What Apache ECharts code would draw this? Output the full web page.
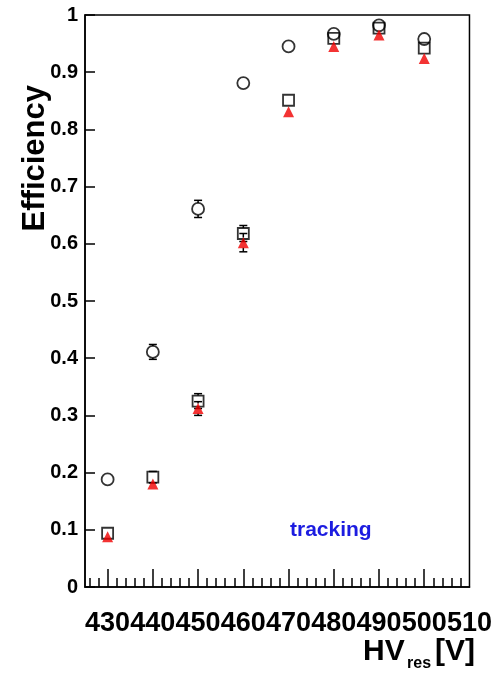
<!DOCTYPE html>
<html>
<head>
<meta charset="utf-8">
<script src="https://cdn.jsdelivr.net/npm/echarts@6/dist/echarts.min.js"></script>
<style>
  html, body { margin: 0; padding: 0; background: #fff; }
  #chart { width: 495px; height: 676px; }
</style>
</head>
<body>
<div id="chart"></div>
<script>
// Reserve voltage scan points (V)
const voltages = [430, 440, 450, 460, 470, 480, 490, 500];

// Efficiency curves and their uncertainties
const effCircle   = [0.188, 0.411, 0.661, 0.881, 0.945, 0.967, 0.982, 0.958];
const errCircle   = [0.004, 0.013, 0.015, 0.006, 0.004, 0.006, 0.006, 0.006];
const effSquare   = [0.094, 0.192, 0.325, 0.618, 0.851, 0.959, 0.977, 0.942];
const errSquare   = [0.008, 0.010, 0.013, 0.014, 0.008, 0.008, 0.007, 0.008];
const effTriangle = [0.088, 0.180, 0.312, 0.602, 0.831, 0.945, 0.965, 0.924];
const errTriangle = [0.006, 0.008, 0.012, 0.016, 0.007, 0.006, 0.005, 0.006];

// Axis tick labels
const xLabels = [430, 440, 450, 460, 470, 480, 490, 500, 510];
const xMajorTicks = [430, 440, 450, 460, 470, 480, 490, 500];
const xMinorTicks = [426, 428, 432, 434, 436, 438, 442, 444, 446, 448, 452, 454, 456, 458,
                     462, 464, 466, 468, 472, 474, 476, 478, 482, 484, 486, 488, 492, 494,
                     496, 498, 502, 504, 506, 508];

const FONT = 'Liberation Sans, Arial, Helvetica, sans-serif';

function pairs(ys, errs) {
  return voltages.map((v, i) => [v, ys[i], errs[i]]);
}

// Error bars drawn outside the marker body, with small end caps
function errorBars(halfSize) {
  return function (params, api) {
    const x = api.value(0), y = api.value(1), e = api.value(2);
    const p = api.coord([x, y]);
    const t = api.coord([x, y + e]);
    const b = api.coord([x, y - e]);
    const cap = 4;
    const style = { stroke: '#000', lineWidth: 1.5 };
    const children = [];
    if (p[1] - t[1] > halfSize) {
      children.push({ type: 'line', shape: { x1: p[0], y1: p[1] - halfSize, x2: t[0], y2: t[1] }, style });
      children.push({ type: 'line', shape: { x1: t[0] - cap, y1: t[1], x2: t[0] + cap, y2: t[1] }, style });
    }
    if (b[1] - p[1] > halfSize) {
      children.push({ type: 'line', shape: { x1: p[0], y1: p[1] + halfSize, x2: b[0], y2: b[1] }, style });
      children.push({ type: 'line', shape: { x1: b[0] - cap, y1: b[1], x2: b[0] + cap, y2: b[1] }, style });
    }
    return { type: 'group', children };
  };
}

const chart = echarts.init(document.getElementById('chart'), null, { renderer: 'canvas' });

const xBase = { type: 'value', min: 425, max: 510, gridIndex: 0, splitLine: { show: false } };

chart.setOption({
  animation: false,
  backgroundColor: '#fff',
  grid: {
    left: 85, right: 23, top: 15, bottom: 89,
    show: true, borderColor: '#000', borderWidth: 1.5, backgroundColor: 'transparent'
  },
  xAxis: [
    Object.assign({}, xBase, {
      position: 'bottom',
      axisLine: { show: true, lineStyle: { color: '#000', width: 1.5 } },
      axisTick: { show: true, inside: true, length: 18, customValues: xMajorTicks, lineStyle: { color: '#000', width: 1.5 } },
      axisLabel: {
        show: true, customValues: xLabels, margin: 23,
        fontSize: 27, fontWeight: 'bold', color: '#000', fontFamily: FONT
      }
    }),
    Object.assign({}, xBase, {
      position: 'bottom',
      axisLine: { show: false },
      axisTick: { show: true, inside: true, length: 9, customValues: xMinorTicks, lineStyle: { color: '#000', width: 1.5 } },
      axisLabel: { show: false }
    })
  ],
  yAxis: {
    type: 'value', min: 0, max: 1, interval: 0.1,
    axisLine: { show: true, lineStyle: { color: '#000', width: 1.5 } },
    axisTick: { show: true, inside: true, length: 10, lineStyle: { color: '#000', width: 1.5 } },
    splitLine: { show: false },
    axisLabel: {
      margin: 7, fontSize: 20, fontWeight: 'bold', color: '#000', fontFamily: FONT,
      formatter: v => (v === 0 ? '0' : v === 1 ? '1' : v.toFixed(1))
    }
  },
  graphic: [
    {
      type: 'text', left: 20, top: 85, rotation: Math.PI / 2,
      style: { text: 'Efficiency', font: 'bold 31px ' + FONT, fill: '#000' },
      originX: 0, originY: 0
    },
    {
      type: 'text', left: 290, top: 520,
      style: { text: 'tracking', font: 'bold 21px ' + FONT, fill: '#1c1ce0' }
    },
    {
      type: 'text', left: 363, top: 637,
      style: { text: 'HV', font: 'bold 30px ' + FONT, fill: '#000' }
    },
    {
      type: 'text', left: 407, top: 656,
      style: { text: 'res', font: 'bold 16px ' + FONT, fill: '#000' }
    },
    {
      type: 'text', left: 435, top: 637,
      style: { text: '[V]', font: 'bold 30px ' + FONT, fill: '#000' }
    }
  ],
  series: [
    {
      type: 'custom', xAxisIndex: 0, renderItem: errorBars(6), data: pairs(effCircle, errCircle), z: 2
    },
    {
      type: 'custom', xAxisIndex: 0, renderItem: errorBars(5.5), data: pairs(effSquare, errSquare), z: 2
    },
    {
      type: 'custom', xAxisIndex: 0, renderItem: errorBars(5), data: pairs(effTriangle, errTriangle), z: 2
    },
    {
      name: 'circle', type: 'scatter', xAxisIndex: 0, symbol: 'circle', symbolSize: 12,
      itemStyle: { color: 'rgba(0,0,0,0)', borderColor: '#000', borderWidth: 1.8 },
      data: pairs(effCircle, errCircle), z: 3
    },
    {
      name: 'square', type: 'scatter', xAxisIndex: 0, symbol: 'rect', symbolSize: 11,
      itemStyle: { color: 'rgba(0,0,0,0)', borderColor: '#000', borderWidth: 1.8 },
      data: pairs(effSquare, errSquare), z: 4
    },
    {
      name: 'triangle', type: 'scatter', xAxisIndex: 0, symbol: 'triangle', symbolSize: 11,
      itemStyle: { color: '#f00000' },
      data: pairs(effTriangle, errTriangle), z: 5
    }
  ]
});
</script>
</body>
</html>
